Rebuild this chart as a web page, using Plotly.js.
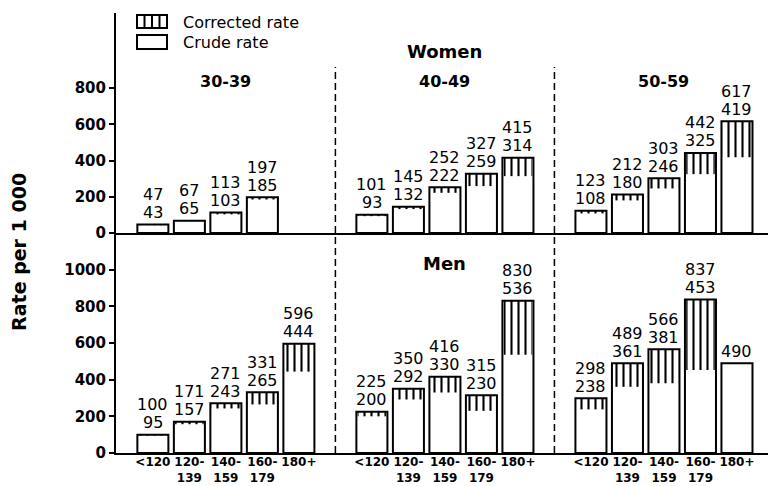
<!DOCTYPE html>
<html>
<head>
<meta charset="utf-8">
<script src="https://cdn.plot.ly/plotly-3.0.1.min.js"></script>
<style>html,body{margin:0;padding:0;background:#fff;}#chart{width:768px;height:486px;}</style>
</head>
<body>
<div id="chart"></div>
<script>
// ---- data ----
const ageGroups = ['30-39', '40-49', '50-59'];
const bpLabels = ['<120', '120-<br>139', '140-<br>159', '160-<br>179', '180+'];
const womenCorrected = [47, 67, 113, 197, null, 101, 145, 252, 327, 415, 123, 212, 303, 442, 617];
const womenCrude     = [43, 65, 103, 185, null, 93, 132, 222, 259, 314, 108, 180, 246, 325, 419];
const menCorrected   = [100, 171, 271, 331, 596, 225, 350, 416, 315, 830, 298, 489, 566, 837, null];
const menCrude       = [95, 157, 243, 265, 444, 200, 292, 330, 230, 536, 238, 361, 381, 453, 490];
const womenTicks = [0, 200, 400, 600, 800];
const menTicks = [0, 200, 400, 600, 800, 1000];

// ---- layout helpers ----
const nb = bpLabels.length;
const pos = womenCrude.map((_, i) => Math.floor(i / nb) * (nb + 1) + (i % nb));
const tickText = pos.map((_, i) => bpLabels[i % nb]);
const FONT = 'DejaVu Sans, Arial, sans-serif';
const BW = 0.85;

function rowTraces(corr, crude, xa, ya) {
  const tops = crude.map((c, i) => corr[i] != null ? corr[i] : c);
  const hatchBase = crude.map((c, i) => corr[i] != null ? c : null);
  const hatchH = crude.map((c, i) => corr[i] != null ? corr[i] - c : null);
  return [
    {
      type: 'bar', x: pos, y: hatchH, base: hatchBase, width: BW * 0.92,
      xaxis: xa, yaxis: ya, showlegend: false, hoverinfo: 'skip',
      marker: {color: '#fff', line: {width: 0},
        pattern: {shape: '|', fgcolor: '#000', bgcolor: '#fff', size: 7, solidity: 0.3}}
    },
    {
      type: 'bar', x: pos, y: tops, width: BW,
      xaxis: xa, yaxis: ya, showlegend: false, hoverinfo: 'skip',
      marker: {color: 'rgba(0,0,0,0)', line: {color: '#000', width: 2}}
    }
  ];
}

function rowLabels(corr, crude, xa, ya) {
  const out = [];
  crude.forEach((c, i) => {
    if (c == null) return;
    const top = corr[i] != null ? corr[i] : c;
    out.push({xref: xa, yref: ya, x: pos[i], y: top, yanchor: 'middle', yshift: 12,
      text: String(c), showarrow: false, font: {family: FONT, size: 16, color: '#000'}});
    if (corr[i] != null) {
      out.push({xref: xa, yref: ya, x: pos[i], y: top, yanchor: 'middle', yshift: 30,
        text: String(corr[i]), showarrow: false, font: {family: FONT, size: 16, color: '#000'}});
    }
  });
  return out;
}

const traces = [
  ...rowTraces(menCorrected, menCrude, 'x', 'y'),
  ...rowTraces(womenCorrected, womenCrude, 'x2', 'y2')
];

const XR = [-1.01, 16.85];
const boldFont = (s) => ({family: FONT, size: s, color: '#000', weight: 'bold'});
const annotations = [
  ...rowLabels(menCorrected, menCrude, 'x', 'y'),
  ...rowLabels(womenCorrected, womenCrude, 'x2', 'y2'),
  ...ageGroups.map((g, gi) => ({xref: 'x2', yref: 'paper', x: gi * (nb + 1) + (nb - 1) / 2, y: 0.845,
    yanchor: 'middle', text: g, showarrow: false, font: boldFont(16)})),
  {xref: 'x2', yref: 'paper', x: 8, y: 0.9125, yanchor: 'middle', text: 'Women', showarrow: false, font: boldFont(18)},
  {xref: 'x', yref: 'paper', x: 8, y: 0.430, yanchor: 'middle', text: 'Men', showarrow: false, font: boldFont(18)},
  {xref: 'paper', yref: 'paper', x: -0.1488, y: 0.457, xanchor: 'center', yanchor: 'middle', textangle: -90,
    text: 'Rate per 1 000', showarrow: false, font: boldFont(19)},
  {xref: 'paper', yref: 'paper', x: 0.0997, y: 0.9795, xanchor: 'left', yanchor: 'middle',
    text: 'Corrected rate', showarrow: false, font: {family: FONT, size: 16, color: '#000'}},
  {xref: 'paper', yref: 'paper', x: 0.0997, y: 0.932, xanchor: 'left', yanchor: 'middle',
    text: 'Crude rate', showarrow: false, font: {family: FONT, size: 16, color: '#000'}}
];

function px2x(p) { return (p - 116) / 652; }
function px2y(p) { return (453 - p) / 440; }
const shapes = [
  {type: 'line', xref: 'x', yref: 'paper', x0: nb, x1: nb, y0: 0, y1: 0.877, line: {color: '#000', width: 1.5, dash: '7px,4px'}},
  {type: 'line', xref: 'x', yref: 'paper', x0: 2 * nb + 1, x1: 2 * nb + 1, y0: 0, y1: 0.877, line: {color: '#000', width: 1.5, dash: '7px,4px'}},
  // legend keys
  {type: 'rect', xref: 'paper', yref: 'paper', x0: px2x(137), x1: px2x(167), y0: px2y(28), y1: px2y(15), line: {color: '#000', width: 2}, fillcolor: '#fff'},
  {type: 'line', xref: 'paper', yref: 'paper', x0: px2x(144.5), x1: px2x(144.5), y0: px2y(28), y1: px2y(15), line: {color: '#000', width: 2}},
  {type: 'line', xref: 'paper', yref: 'paper', x0: px2x(152), x1: px2x(152), y0: px2y(28), y1: px2y(15), line: {color: '#000', width: 2}},
  {type: 'line', xref: 'paper', yref: 'paper', x0: px2x(159.5), x1: px2x(159.5), y0: px2y(28), y1: px2y(15), line: {color: '#000', width: 2}},
  {type: 'rect', xref: 'paper', yref: 'paper', x0: px2x(137), x1: px2x(167), y0: px2y(49), y1: px2y(35), line: {color: '#000', width: 2}, fillcolor: '#fff'}
];

const axisY = {
  showline: true, linecolor: '#000', linewidth: 2, ticks: 'outside', ticklen: 5, tickwidth: 2, tickcolor: '#000',
  showgrid: false, zeroline: false, tickfont: boldFont(15), fixedrange: true
};

const layout = {
  width: 768, height: 486,
  margin: {l: 116, r: 0, t: 13, b: 33},
  paper_bgcolor: '#fff', plot_bgcolor: '#fff',
  barmode: 'overlay', showlegend: false,
  xaxis: {domain: [0, 1], anchor: 'y', range: XR, tickmode: 'array', tickvals: pos, ticktext: tickText,
    ticks: '', showline: true, linecolor: '#000', linewidth: 2, showgrid: false, zeroline: false,
    tickfont: boldFont(12), ticklabelstandoff: -3},
  xaxis2: {domain: [0, 1], anchor: 'y2', range: XR, showticklabels: false, ticks: '', showline: true,
    linecolor: '#000', linewidth: 2, showgrid: false, zeroline: false},
  yaxis: Object.assign({}, axisY, {domain: [0, 0.5], range: [0, 1200], tickmode: 'array', tickvals: menTicks}),
  yaxis2: Object.assign({}, axisY, {domain: [0.5, 1], range: [0, 1215], tickmode: 'array', tickvals: womenTicks}),
  annotations: annotations,
  shapes: shapes
};

Plotly.newPlot('chart', traces, layout, {staticPlot: true, displayModeBar: false});
</script>
</body>
</html>
